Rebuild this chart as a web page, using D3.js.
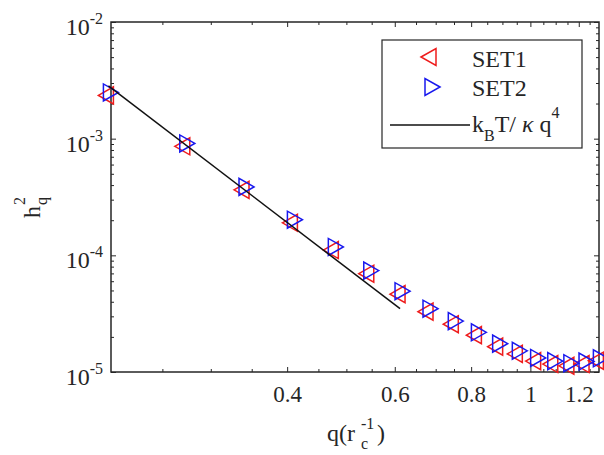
<!DOCTYPE html>
<html>
<head>
<meta charset="utf-8">
<script src="https://cdn.jsdelivr.net/npm/d3@7"></script>
<style>
  html, body { margin: 0; padding: 0; background: #ffffff; }
  svg { display: block; }
  text { font-family: "Liberation Serif", "Times New Roman", serif; fill: #262626; }
</style>
</head>
<body>
<div id="chart"></div>
<script>
// ---- data ----
const q = [0.204, 0.272, 0.340, 0.408, 0.476, 0.544, 0.612, 0.680, 0.748, 0.816, 0.884, 0.952, 1.020, 1.088, 1.156, 1.224, 1.292];
const set1 = [2.35e-3, 8.6e-4, 3.64e-4, 1.90e-4, 1.11e-4, 6.96e-5, 4.65e-5, 3.29e-5, 2.57e-5, 2.07e-5, 1.65e-5, 1.43e-5, 1.24e-5, 1.17e-5, 1.13e-5, 1.17e-5, 1.25e-5];
const set2 = [2.49e-3, 9.1e-4, 3.86e-4, 2.02e-4, 1.18e-4, 7.4e-5, 4.93e-5, 3.49e-5, 2.73e-5, 2.19e-5, 1.75e-5, 1.52e-5, 1.32e-5, 1.24e-5, 1.19e-5, 1.23e-5, 1.31e-5];
const lineQ = [0.204, 0.612];
const lineH = [2.83e-3, 3.49e-5];
const xTicks = [0.4, 0.6, 0.8, 1, 1.2];
const xMinorTicks = [0.25, 0.3, 0.35, 0.45, 0.5, 0.55, 0.65, 0.7, 0.75, 0.85, 0.9, 0.95, 1.05, 1.1, 1.15, 1.25];
const yTicks = [1e-5, 1e-4, 1e-3, 1e-2];
const yTickExp = ["-5", "-4", "-3", "-2"];
const legendLabels = ["SET1", "SET2"];

// ---- layout ----
const W = 604, H = 455;
const L = 111, R = 599, T = 22, B = 372;
const axisColor = "#262626";
const red = "#ee1c1c", blue = "#1818ee";

const svg = d3.select("#chart").append("svg").attr("width", W).attr("height", H);

const x = d3.scaleLog().domain([0.206, 1.295]).range([L, R]);
const y = d3.scaleLog().domain([1e-5, 1e-2]).range([B, T]);

// minor y ticks
const yMinor = [];
[1e-5, 1e-4, 1e-3].forEach(d => { for (let k = 2; k <= 9; k++) yMinor.push(d * k); });

function styleAxis(g) {
  g.select(".domain").remove();
  g.selectAll(".tick line").attr("stroke", axisColor).attr("stroke-width", 1);
  g.selectAll(".tick text").attr("fill", axisColor);
}

// bottom axis (major, labelled)
svg.append("g").attr("transform", `translate(0,${B})`)
  .call(d3.axisBottom(x).tickValues(xTicks).tickSizeInner(-5).tickSizeOuter(0).tickPadding(14).tickFormat(d3.format("")))
  .call(styleAxis)
  .call(g => g.selectAll(".tick text").style("font-size", "23px").style("font-family", "Liberation Serif"));
svg.append("g").attr("transform", `translate(0,${B})`)
  .call(d3.axisBottom(x).tickValues(xMinorTicks).tickSizeInner(-3).tickSizeOuter(0).tickFormat(""))
  .call(styleAxis);
// top axis
svg.append("g").attr("transform", `translate(0,${T})`)
  .call(d3.axisTop(x).tickValues(xTicks).tickSizeInner(-5).tickSizeOuter(0).tickFormat(""))
  .call(styleAxis);
svg.append("g").attr("transform", `translate(0,${T})`)
  .call(d3.axisTop(x).tickValues(xMinorTicks).tickSizeInner(-3).tickSizeOuter(0).tickFormat(""))
  .call(styleAxis);
// left axis
svg.append("g").attr("transform", `translate(${L},0)`)
  .call(d3.axisLeft(y).tickValues(yTicks).tickSizeInner(-5).tickSizeOuter(0).tickFormat(""))
  .call(styleAxis);
svg.append("g").attr("transform", `translate(${L},0)`)
  .call(d3.axisLeft(y).tickValues(yMinor).tickSizeInner(-3).tickSizeOuter(0).tickFormat(""))
  .call(styleAxis);
// right axis
svg.append("g").attr("transform", `translate(${R},0)`)
  .call(d3.axisRight(y).tickValues(yTicks).tickSizeInner(-5).tickSizeOuter(0).tickFormat(""))
  .call(styleAxis);
svg.append("g").attr("transform", `translate(${R},0)`)
  .call(d3.axisRight(y).tickValues(yMinor).tickSizeInner(-3).tickSizeOuter(0).tickFormat(""))
  .call(styleAxis);

// frame
svg.append("rect").attr("x", L).attr("y", T).attr("width", R - L).attr("height", B - T)
  .attr("fill", "none").attr("stroke", axisColor).attr("stroke-width", 1.5);

// y tick labels 10^k
const yl = svg.append("g");
yTicks.forEach((d, i) => {
  const t = yl.append("text").attr("x", 103).attr("y", y(d) + 13)
    .attr("text-anchor", "end").style("font-size", "24px");
  t.append("tspan").text("10");
  t.append("tspan").attr("dy", -11).style("font-size", "16px").text(yTickExp[i]);
});

// markers
const MW = 15, MH = 17;
const leftTri = `M${-2*MW/3},0L${MW/3},${-MH/2}L${MW/3},${MH/2}Z`;
const rightTri = `M${2*MW/3},0L${-MW/3},${-MH/2}L${-MW/3},${MH/2}Z`;

svg.append("g").selectAll("path").data(q).join("path")
  .attr("d", leftTri)
  .attr("transform", (d, i) => `translate(${x(d)},${y(set1[i])})`)
  .attr("fill", "none").attr("stroke", red).attr("stroke-width", 1.5);
svg.append("g").selectAll("path").data(q).join("path")
  .attr("d", rightTri)
  .attr("transform", (d, i) => `translate(${x(d)},${y(set2[i])})`)
  .attr("fill", "none").attr("stroke", blue).attr("stroke-width", 1.5);

// theory line
const line = d3.line().x(d => x(d[0])).y(d => y(d[1]));
svg.append("path").datum(lineQ.map((d, i) => [d, lineH[i]]))
  .attr("d", line).attr("fill", "none").attr("stroke", "#111").attr("stroke-width", 1.5);

// legend
const lg = svg.append("g");
lg.append("rect").attr("x", 382).attr("y", 40).attr("width", 200).attr("height", 108)
  .attr("fill", "#fff").attr("stroke", axisColor).attr("stroke-width", 1.2);
lg.append("path").attr("d", leftTri).attr("transform", "translate(431,57)")
  .attr("fill", "none").attr("stroke", red).attr("stroke-width", 1.5);
lg.append("path").attr("d", rightTri).attr("transform", "translate(430,87)")
  .attr("fill", "none").attr("stroke", blue).attr("stroke-width", 1.5);
lg.append("line").attr("x1", 390).attr("x2", 470).attr("y1", 125).attr("y2", 125)
  .attr("stroke", "#111").attr("stroke-width", 1.5);
lg.append("text").attr("x", 472).attr("y", 67).style("font-size", "24px").text(legendLabels[0]);
lg.append("text").attr("x", 472).attr("y", 96).style("font-size", "24px").text(legendLabels[1]);
const lt = lg.append("text").attr("x", 472).attr("y", 132).style("font-size", "24px");
lt.append("tspan").text("k");
lt.append("tspan").attr("dy", 9).style("font-size", "16px").text("B");
lt.append("tspan").attr("dy", -9).text("T/ ");
lt.append("tspan").style("font-style", "italic").text("κ");
lt.append("tspan").text(" q");
lt.append("tspan").attr("dy", -14).style("font-size", "16px").text("4");

// x axis title q(r_c^-1)
const xt = svg.append("g").attr("transform", "translate(327,441)");
const xtt = xt.append("text").style("font-size", "24px");
xtt.append("tspan").text("q(r");
const bx = 34;
xt.append("text").attr("x", bx).attr("y", 8).style("font-size", "16px").text("c");
xt.append("text").attr("x", bx).attr("y", -12).style("font-size", "16px").text("-1");
xt.append("text").attr("x", bx + 16).attr("y", 0).style("font-size", "24px").text(")");

// y axis title h_q^2
const yt = svg.append("g").attr("transform", "translate(40,218) rotate(-90)");
yt.append("text").attr("x", 0).attr("y", 0).style("font-size", "24px").text("h");
yt.append("text").attr("x", 13).attr("y", 7).style("font-size", "16px").text("q");
yt.append("text").attr("x", 13).attr("y", -15).style("font-size", "16px").text("2");
</script>
</body>
</html>
